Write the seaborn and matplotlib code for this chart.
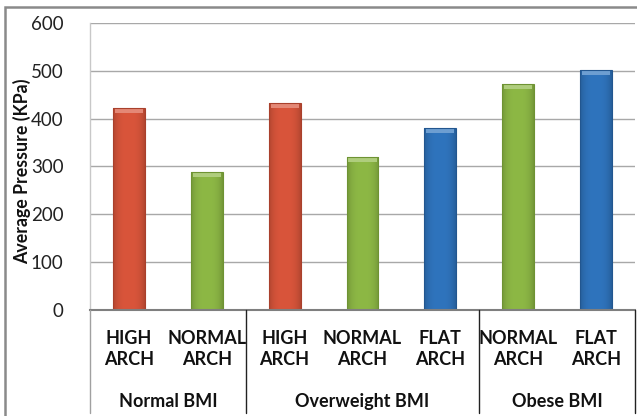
import matplotlib
matplotlib.use("Agg")
import matplotlib.pyplot as plt
import matplotlib.transforms as mtransforms
from matplotlib.patches import Rectangle
from matplotlib.colors import to_rgb
import numpy as np
import seaborn as sns
import pandas as pd

# Data
groups = ["Normal BMI", "Normal BMI", "Overweight BMI", "Overweight BMI",
          "Overweight BMI", "Obese BMI", "Obese BMI"]
arches = ["HIGH ARCH", "NORMAL ARCH", "HIGH ARCH", "NORMAL ARCH",
          "FLAT ARCH", "NORMAL ARCH", "FLAT ARCH"]
pressure = [422, 288, 432, 319, 380, 472, 502]
group_names = ["Normal BMI", "Overweight BMI", "Obese BMI"]
y_ticks = [0, 100, 200, 300, 400, 500, 600]

palette = {"HIGH ARCH": "#D9553B", "NORMAL ARCH": "#8DB845", "FLAT ARCH": "#2F74BD"}
edge = {"HIGH ARCH": "#A9402C", "NORMAL ARCH": "#6E9333", "FLAT ARCH": "#22568F"}

df = pd.DataFrame({
    "key": [f"{g}|{a}|{i}" for i, (g, a) in enumerate(zip(groups, arches))],
    "group": groups,
    "arch": arches,
    "pressure": pressure,
})

sns.set_theme(style="white")
plt.rcParams["font.family"] = ["Lato", "DejaVu Sans"]

fig = plt.figure(figsize=(6.37, 4.16), dpi=100)
ax = fig.add_axes([90 / 637, 1 - 310 / 416, 545 / 637, 287 / 416])

sns.barplot(data=df, x="key", y="pressure", hue="arch", palette=palette,
            order=df["key"], dodge=False, width=0.41, legend=False, ax=ax,
            saturation=1)

ax.set_ylim(0, 600)
ax.set_xlim(-0.5, len(pressure) - 0.5)

# Bars in left-to-right order (seaborn adds them hue level by hue level)
bars = sorted([p for p in ax.patches if p.get_height() > 0],
              key=lambda p: p.get_x())

# Shade each bar with a soft horizontal gradient and a light top bevel
for patch, arch in zip(bars, arches):
    base = np.array(to_rgb(palette[arch]))
    x0, y0 = patch.get_x(), patch.get_y()
    w, h = patch.get_width(), patch.get_height()
    u = np.linspace(-1, 1, 64)
    shade = 1 - 0.18 * np.abs(u) ** 3
    img = np.clip(base[None, None, :] * shade[None, :, None], 0, 1)
    im = ax.imshow(img, extent=(x0, x0 + w, y0, y0 + h), aspect="auto",
                   zorder=2.5, interpolation="bilinear")
    im.set_clip_path(patch)
    top = np.clip(base + (1 - base) * 0.3, 0, 1)
    cap_h = 5 * 600 / 287
    ax.add_patch(Rectangle((x0 + w * 0.06, y0 + h - cap_h), w * 0.88, cap_h,
                           facecolor=top, edgecolor="none", zorder=2.7))
    patch.set_facecolor("none")
    patch.set_edgecolor(edge[arch])
    patch.set_linewidth(0.8)
    patch.set_zorder(3)

ax.set_ylim(0, 600)
ax.set_xlim(-0.5, len(pressure) - 0.5)
ax.set_yticks(y_ticks)
ax.set_yticklabels([str(t) for t in y_ticks], fontsize=13.5, color="#222222")
ax.tick_params(axis="y", length=0, pad=19)
ax.set_xticks([])
ax.set_xlabel("")
ax.set_ylabel("")
fig.text(22 / 637, 1 - 171 / 416, "Average Pressure (KPa)", rotation=90,
         ha="center", va="center", fontsize=12.8, fontweight="bold",
         color="#111111")

ax.yaxis.grid(True, color="#A8A8A8", linewidth=1)
ax.set_axisbelow(True)
for side in ["top", "right"]:
    ax.spines[side].set_visible(False)
ax.spines["left"].set_color("#C8C8C8")
ax.spines["left"].set_linewidth(1)
ax.spines["bottom"].set_color("#7F7F7F")
ax.spines["bottom"].set_linewidth(1.5)
ax.spines["bottom"].set_zorder(4)

trans = mtransforms.blended_transform_factory(ax.transData, ax.transAxes)

# Category labels under each bar
for i, arch in enumerate(arches):
    ax.text(i, -0.135, arch.replace(" ", "\n"), transform=trans, ha="center",
            va="center", fontsize=13, fontweight="bold", color="#111111",
            linespacing=1.3, clip_on=False)

# Group labels and separators
bounds = [-0.5]
for g in group_names:
    idx = [i for i, gg in enumerate(groups) if gg == g]
    ax.text((idx[0] + idx[-1]) / 2, -0.318, g, transform=trans, ha="center",
            va="center", fontsize=13, fontweight="bold", color="#111111",
            clip_on=False)
    bounds.append(idx[-1] + 0.5)

for j, b in enumerate(bounds):
    col = "#A0A0A0" if j == 0 else "#222222"
    ax.plot([b, b], [0, -0.36], transform=trans, color=col, linewidth=1,
            clip_on=False, zorder=5)

# Outer frame of the figure
fig.patches.append(Rectangle((5 / 637, -0.05), 1.2, 1 - 7 / 416 + 0.05,
                             transform=fig.transFigure, fill=False,
                             edgecolor="#8A8A8A", linewidth=1.8))

fig.savefig("out.png", dpi=100)
